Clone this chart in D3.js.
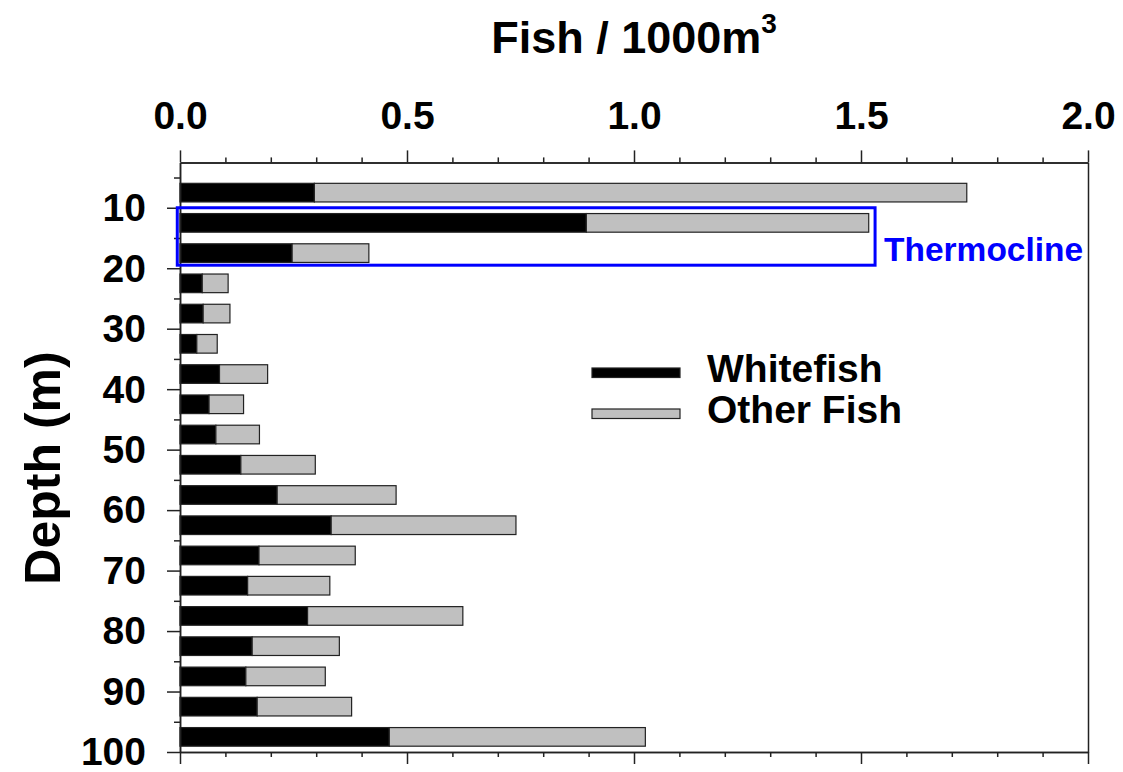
<!DOCTYPE html>
<html>
<head>
<meta charset="utf-8">
<script src="https://cdn.jsdelivr.net/npm/d3@7"></script>
<style>
  body { margin: 0; background: #fff; }
  text { font-family: "Liberation Sans", Arial, sans-serif; font-weight: bold; }
</style>
</head>
<body>
<div id="main"></div>
<script>
const ctx = {
    WIDTH: 1123,
    HEIGHT: 772,
    left: 180, right: 1088, top: 162.4, bottom: 752
};

// depth of each 5 m layer (centre), in metres
const depths = [7.5, 12.5, 17.5, 22.5, 27.5, 32.5, 37.5, 42.5, 47.5, 52.5,
    57.5, 62.5, 67.5, 72.5, 77.5, 82.5, 87.5, 92.5, 97.5];
// fish per 1000 m3
const whitefish = [0.296, 0.895, 0.247, 0.049, 0.051, 0.037, 0.087, 0.064, 0.079, 0.134,
    0.214, 0.333, 0.174, 0.149, 0.281, 0.159, 0.145, 0.170, 0.461];
const otherFish = [1.437, 0.622, 0.169, 0.057, 0.059, 0.045, 0.106, 0.076, 0.096, 0.164,
    0.262, 0.407, 0.212, 0.181, 0.342, 0.192, 0.175, 0.208, 0.564];
const seriesNames = ["Whitefish", "Other Fish"];
const seriesColors = ["#000000", "#c0c0c0"];
const xMajorTicks = [0, 0.5, 1.0, 1.5, 2.0];
const yMajorTicks = [10, 20, 30, 40, 50, 60, 70, 80, 90, 100];
// thermocline box: depth range and x extent
const thermoDepth = [10, 19.5];
const thermoX = [-0.006, 1.531];

function createChart() {
    const svg = d3.select("#main").append("svg")
        .attr("width", ctx.WIDTH)
        .attr("height", ctx.HEIGHT);

    const x = d3.scaleLinear().domain([0, 2]).range([ctx.left, ctx.right]);
    const y = d3.scaleLinear().domain([2.5, 100]).range([ctx.top, ctx.bottom]);
    const barH = y(3.08) - y(0);

    const rows = depths.map((d, i) => ({ depth: d, Whitefish: whitefish[i], "Other Fish": otherFish[i] }));
    const stack = d3.stack().keys(seriesNames)(rows);

    // bars
    svg.append("g").selectAll("g")
        .data(stack)
        .enter().append("g")
        .attr("fill", (d, i) => seriesColors[i])
        .selectAll("rect")
        .data(d => d)
        .enter().append("rect")
        .attr("x", d => x(d[0]))
        .attr("y", d => y(d.data.depth) - barH / 2)
        .attr("width", d => x(d[1]) - x(d[0]))
        .attr("height", barH)
        .attr("stroke", "#222")
        .attr("stroke-width", 1.2);

    const minorX = d3.range(0, 2.001, 0.1).map(v => +v.toFixed(1)).filter(v => !xMajorTicks.includes(v));
    const minorY = d3.range(5, 100, 10);

    function styleAxis(g) {
        g.selectAll("path, line").attr("stroke", "#222").attr("stroke-width", 1.5);
        g.selectAll("text").attr("fill", "#000").attr("font-family", "'Liberation Sans', Arial, sans-serif");
    }

    // top axis
    svg.append("g").attr("transform", `translate(0,${ctx.top})`)
        .call(d3.axisTop(x).tickValues(xMajorTicks).tickSize(12).tickSizeOuter(0).tickPadding(21)
            .tickFormat(d3.format(".1f")))
        .call(g => g.selectAll("text").attr("font-size", 39))
        .call(styleAxis);
    svg.append("g").attr("transform", `translate(0,${ctx.top})`)
        .call(d3.axisTop(x).tickValues(minorX).tickSize(5).tickSizeOuter(0).tickFormat(""))
        .call(styleAxis);

    // bottom axis (ticks only)
    svg.append("g").attr("transform", `translate(0,${ctx.bottom})`)
        .call(d3.axisBottom(x).tickValues(xMajorTicks).tickSize(12).tickSizeOuter(0).tickFormat(""))
        .call(styleAxis);
    svg.append("g").attr("transform", `translate(0,${ctx.bottom})`)
        .call(d3.axisBottom(x).tickValues(minorX).tickSize(5).tickSizeOuter(0).tickFormat(""))
        .call(styleAxis);

    // left axis
    svg.append("g").attr("transform", `translate(${ctx.left},0)`)
        .call(d3.axisLeft(y).tickValues(yMajorTicks).tickSize(13).tickSizeOuter(0).tickPadding(21))
        .call(g => g.selectAll("text").attr("font-size", 39).attr("dy", "0.33em"))
        .call(styleAxis);
    svg.append("g").attr("transform", `translate(${ctx.left},0)`)
        .call(d3.axisLeft(y).tickValues(minorY).tickSize(6).tickSizeOuter(0).tickFormat(""))
        .call(styleAxis);

    // right axis (line only)
    svg.append("g").attr("transform", `translate(${ctx.right},0)`)
        .call(d3.axisRight(y).tickValues([]).tickSizeOuter(0))
        .call(styleAxis);

    // titles
    const title = svg.append("text")
        .attr("x", (ctx.left + ctx.right) / 2)
        .attr("y", 53)
        .attr("text-anchor", "middle")
        .attr("font-size", 45);
    title.append("tspan").text("Fish / 1000m");
    title.append("tspan").text("3").attr("font-size", 28).attr("dy", -20);

    svg.append("text")
        .attr("transform", "translate(60,468) rotate(-90)")
        .attr("text-anchor", "middle")
        .attr("font-size", 50)
        .text("Depth (m)");

    // thermocline box
    svg.append("rect")
        .attr("x", x(thermoX[0]))
        .attr("y", y(thermoDepth[0]))
        .attr("width", x(thermoX[1]) - x(thermoX[0]))
        .attr("height", y(thermoDepth[1]) - y(thermoDepth[0]))
        .attr("fill", "none")
        .attr("stroke", "#0000ff")
        .attr("stroke-width", 3);
    svg.append("text")
        .attr("x", 884)
        .attr("y", 261)
        .attr("fill", "#0000ff")
        .attr("font-size", 33.5)
        .text("Thermocline");

    // legend
    const legend = svg.append("g").selectAll("g")
        .data(seriesNames)
        .enter().append("g")
        .attr("transform", (d, i) => `translate(592,${368 + i * 41})`);
    legend.append("rect")
        .attr("width", 88)
        .attr("height", 9.5)
        .attr("fill", (d, i) => seriesColors[i])
        .attr("stroke", "#222")
        .attr("stroke-width", 1.2);
    legend.append("text")
        .attr("x", 115)
        .attr("y", 14)
        .attr("font-size", 39)
        .text(d => d);
}

createChart();
</script>
</body>
</html>
